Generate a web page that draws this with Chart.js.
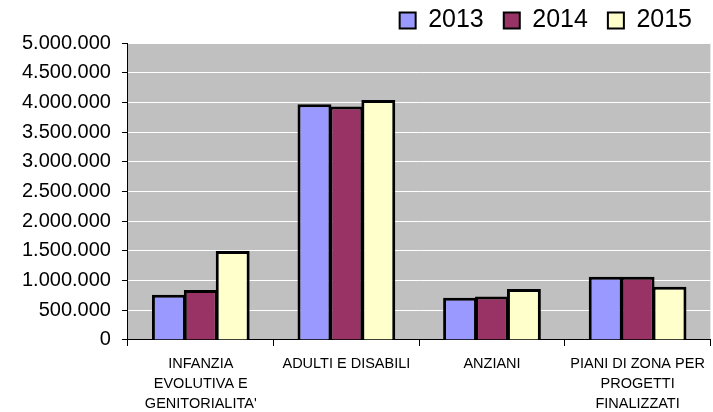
<!DOCTYPE html>
<html>
<head>
<meta charset="utf-8">
<script src="https://cdn.jsdelivr.net/npm/chart.js@4/dist/chart.umd.min.js"></script>
<style>
  html, body { margin: 0; padding: 0; background: #fff; }
  #wrap { width: 713px; height: 412px; }
</style>
</head>
<body>
<div id="wrap"><canvas id="chart" width="713" height="412"></canvas></div>
<script>
// categories (multi-line labels)
const categories = [
  ["INFANZIA", "EVOLUTIVA E", "GENITORIALITA'"],
  ["ADULTI E DISABILI"],
  ["ANZIANI"],
  ["PIANI DI ZONA PER", "PROGETTI", "FINALIZZATI"]
];
const years = ["2013", "2014", "2015"];
const values2013 = [760000, 3970000, 712000, 1066000];
const values2014 = [840000, 3930000, 730000, 1066000];
const values2015 = [1500000, 4040000, 860000, 897000];
const colors = ["#9999FF", "#993366", "#FFFFCC"];
const yMax = 5000000;
const yStep = 500000;

const fmt = v => String(v).replace(/\B(?=(\d{3})+(?!\d))/g, ".");

// grey plot area
const plotBg = {
  id: "plotBg",
  beforeDraw(chart) {
    const a = chart.chartArea, ctx = chart.ctx;
    ctx.save();
    ctx.fillStyle = "#C0C0C0";
    ctx.fillRect(a.left, a.top, a.right - a.left, a.bottom - a.top);
    ctx.restore();
  }
};

// bars overlap a little so the shared edge is one black line (like the original)
const barStyle = {
  borderColor: "#000",
  borderWidth: 3,
  categoryPercentage: 96 / 146,
  barPercentage: 34 / 32,
  inflateAmount: 0
};

const ctx = document.getElementById("chart").getContext("2d");
new Chart(ctx, {
  type: "bar",
  data: {
    labels: categories,
    datasets: [
      Object.assign({ label: years[0], data: values2013, backgroundColor: colors[0] }, barStyle),
      Object.assign({ label: years[1], data: values2014, backgroundColor: colors[1] }, barStyle),
      Object.assign({ label: years[2], data: values2015, backgroundColor: colors[2] }, barStyle)
    ]
  },
  options: {
    responsive: false,
    animation: false,
    layout: { padding: { left: 11, right: 1, top: -12, bottom: -10 } },
    plugins: {
      legend: {
        position: "top",
        align: "end",
        labels: {
          color: "#000",
          font: { family: "'Liberation Sans', Arial", size: 25 },
          boxWidth: 16,
          boxHeight: 16,
          padding: 20,
          generateLabels(chart) {
            return chart.data.datasets.map((ds, i) => ({
              text: ds.label,
              fillStyle: ds.backgroundColor,
              strokeStyle: "#000",
              lineWidth: 2,
              datasetIndex: i
            }));
          }
        }
      },
      tooltip: { enabled: false }
    },
    scales: {
      x: {
        grid: {
          drawOnChartArea: false,
          drawTicks: true,
          tickLength: 6,
          tickColor: "#000",
          offset: true
        },
        border: { display: true, color: "#000", width: 1 },
        ticks: {
          color: "#000",
          maxRotation: 0,
          autoSkip: false,
          padding: 8,
          font: { family: "'Liberation Sans', Arial", size: 14.5, lineHeight: 1.38 }
        }
      },
      y: {
        min: 0,
        max: yMax,
        grid: {
          color: "#FFFFFF",
          lineWidth: 1,
          tickColor: "#000",
          tickLength: 6
        },
        border: { display: true, color: "#000", width: 1 },
        ticks: {
          stepSize: yStep,
          color: "#000",
          padding: 11,
          font: { family: "'Liberation Sans', Arial", size: 20 },
          callback: v => fmt(v)
        }
      }
    }
  },
  plugins: [plotBg]
});
</script>
</body>
</html>
